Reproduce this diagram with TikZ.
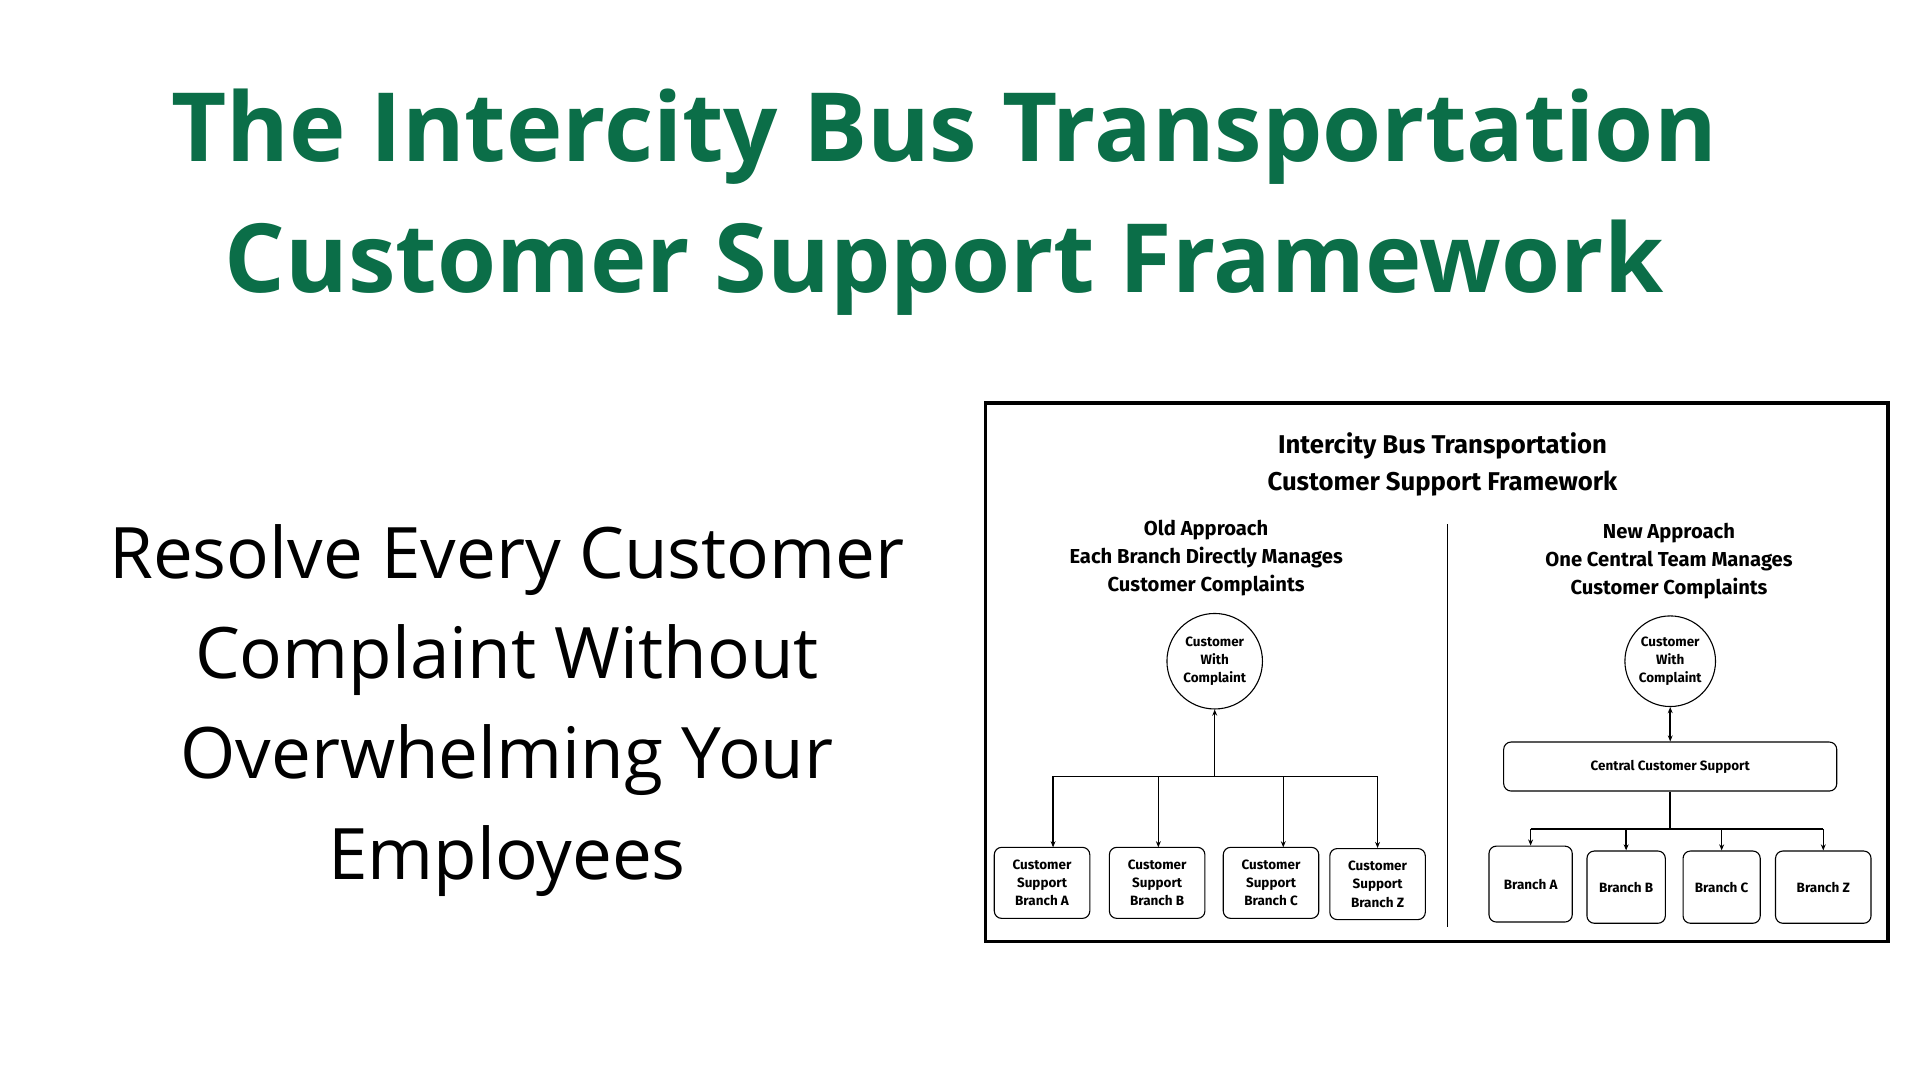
\documentclass[tikz,border=0pt]{standalone}
\usepackage{fontspec}
\setmainfont{Open Sans}
\newfontfamily\inner{Fira Sans}
\usetikzlibrary{arrows.meta}
\definecolor{ttl}{HTML}{0B6E48}
\begin{document}
\begin{tikzpicture}[x=1pt,y=-1pt,
  bx/.style={draw,rounded corners=6pt,line width=0.9pt,align=center,inner sep=0pt,font=\inner\bfseries\fontsize{11}{15}\selectfont},
  circ/.style={draw,circle,line width=0.9pt,minimum size=78pt,inner sep=0pt,align=center,font=\inner\bfseries\fontsize{11}{15}\selectfont},
  hd/.style={align=center,font=\inner\bfseries\fontsize{16.5}{23}\selectfont},
  ar/.style={-{Stealth[length=5pt,width=4pt]},line width=1.2pt},
  ln/.style={line width=1.2pt}]
\useasboundingbox (0,0) rectangle (1568,882);
\fill[white] (0,0) rectangle (1568,882);
\node[text=ttl,align=center,font=\bfseries\fontsize{78}{107}\selectfont] (title) at (771,165) {The Intercity Bus Transportation\\Customer Support Framework};
\node[align=center,font=\fontsize{58}{82}\selectfont] (sub) at (414,580) {Resolve Every Customer\\Complaint Without\\Overwhelming Your\\Employees};
\node[draw,line width=2.8pt,minimum width=737pt,minimum height=440pt,inner sep=0pt] (frame) at (1173.5,549) {};
\node[align=center,font=\inner\bfseries\fontsize{21}{30}\selectfont] (it) at (1178,379) {Intercity Bus Transportation\\Customer Support Framework};
\node[hd] (oh) at (985,456) {Old Approach\\Each Branch Directly Manages\\Customer Complaints};
\node[hd] (nh) at (1363,458) {New Approach\\One Central Team Manages\\Customer Complaints};
\coordinate (d1) at (1182,428); \coordinate (d2) at (1182,757);
\draw[line width=1.4pt] (d1) -- (d2);
% old
\node[circ] (oc) at (992,540) {Customer\\With\\Complaint};
\node[bx,minimum width=78pt,minimum height=58pt] (o1) at (851,721) {Customer\\Support\\Branch A};
\node[bx,minimum width=78pt,minimum height=58pt] (o2) at (945,721) {Customer\\Support\\Branch B};
\node[bx,minimum width=78pt,minimum height=58pt] (o3) at (1038,721) {Customer\\Support\\Branch C};
\node[bx,minimum width=78pt,minimum height=58pt] (o4) at (1125,722) {Customer\\Support\\Branch Z};
\coordinate (ob) at (992,634);
\draw[ar] (ob) -- (oc.south);
\draw[ln] (860,634) -- (1125,634);
\draw[ar] (860,634) -- (860,692);
\draw[ar] (946,634) -- (946,692);
\draw[ar] (1048,634) -- (1048,692);
\draw[ar] (1125,634) -- (o4.north);
% new
\node[circ,minimum size=74pt] (nc) at (1364,540) {Customer\\With\\Complaint};
\node[bx,minimum width=272pt,minimum height=40pt] (cs) at (1364,626) {Central Customer Support};
\draw[{Stealth[length=5pt,width=4pt]}-{Stealth[length=5pt,width=4pt]},line width=1.2pt] (nc.south) -- (cs.north);
\node[bx,minimum width=68pt,minimum height=62pt] (n1) at (1250,722) {Branch A};
\node[bx,minimum width=64pt,minimum height=59pt] (n2) at (1328,724.5) {Branch B};
\node[bx,minimum width=63pt,minimum height=59pt] (n3) at (1406,724.5) {Branch C};
\node[bx,minimum width=78pt,minimum height=59pt] (n4) at (1489,724.5) {Branch Z};
\coordinate (nb) at (1364,677);
\draw[ln] (cs.south) -- (nb);
\draw[ln] (1250,677) -- (1489,677);
\draw[ar] (1250,677) -- (n1.north);
\draw[ar] (1328,677) -- (n2.north);
\draw[ar] (1406,677) -- (n3.north);
\draw[ar] (1489,677) -- (n4.north);
\end{tikzpicture}
\end{document}
